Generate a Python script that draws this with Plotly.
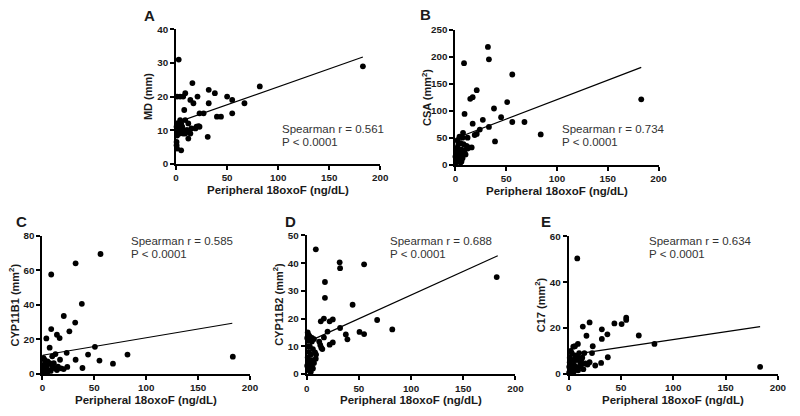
import plotly.graph_objects as go

# ---------------- data ----------------
A_x = [2.6, 183, 82, 16, 32, 38, 50, 55, 67, 32, 21, 9, 7, 1, 4, 14, 17, 8, 23, 27, 40, 44, 55, 4, 12, 1, 0.5, 20, 23, 3,
       11, 15, 7, 9, 14, 12, 31, 1, 0.5, 0.5, 1, 5, 1.5, 3.5, 6, 9, 2, 5, 10, 3, 6, 19, 22]
A_y = [31, 29, 23, 24, 22, 21, 20, 19, 18, 18, 20, 21, 20, 20, 20, 19, 18, 16, 15, 15, 14, 14, 15, 13, 12, 12, 11, 11, 11, 10,
       10, 10.5, 9, 9, 9, 7.5, 8, 8.4, 6.5, 5.5, 4.5, 4, 9.5, 9, 11, 13, 12, 12, 10, 11, 10, 10.5, 11.2]

B_x = [32, 33, 8.5, 56, 21, 17, 14.6, 38, 51, 9, 27, 45, 56, 68, 84, 39, 33, 24, 17, 21, 19, 7.5, 7, 12, 16, 12, 9, 11,
       2, 3, 5, 6, 1, 3, 4, 6, 9, 10, 1, 3, 6, 7, 0.5, 5, 0, 183, 2, 4, 1, 8, 13, 3]
B_y = [218, 195, 188, 167, 138, 125, 122, 104, 116, 94, 83, 88, 79, 79, 56, 43, 70, 65, 76, 57, 55, 59, 50, 50, 32, 30, 27, 35,
       32, 38, 40, 28, 22, 18, 14, 20, 19, 19, 10, 8, 6, 12, 4, 4, 15, 121, 45, 52, 28, 38, 32, 26]

C_x = [56, 32, 8.5, 38, 20.6, 31.6, 8.5, 26, 14, 16.6, 3.8, 7, 50.6, 23.4, 44, 82, 183.5, 12.6, 9.5, 17, 32, 55, 68, 38.6,
       24, 20.5, 2, 3, 1, 5, 7, 4, 2, 6, 8, 1, 3, 10, 12, 14, 0.5, 5, 9, 11, 15, 1, 18]
C_y = [69.4, 64, 57.5, 40.5, 33.4, 29.6, 25.8, 24.5, 22.5, 20.6, 20.4, 15, 15.5, 12, 11, 11, 9.8, 11.3, 10, 8, 8, 7.5, 5.7, 3.2,
       3.8, 2.6, 8, 6, 5, 7, 6, 4, 3, 2, 1.5, 1, 0.5, 4, 3, 2, 2, 1, 5, 6, 4, 9, 3]

D_x = [8.75, 31.6, 32, 55, 17.5, 17.5, 44, 16.5, 13.5, 25, 22, 20, 16.5, 32, 50.6, 67.5, 82, 55, 37.5, 39, 182, 25, 22, 12,
       13, 14, 15, 5, 7, 8, 9, 8.7, 1, 2, 0.5, 1.5, 3, 2, 1, 3, 4, 5, 2, 3, 4, 6, 5, 0.5, 1, 6, 4, 7, 2, 5, 3]
D_y = [45, 40.3, 38.2, 39.6, 33.2, 27.5, 25, 20, 19, 19.7, 19, 15.3, 13.2, 16.6, 15.2, 19.5, 16.1, 14.4, 14.3, 12.5, 35, 11.4, 10.6, 11.7,
       10.5, 9.5, 9, 11.7, 12.6, 7.8, 7, 5.5, 15, 14, 13, 12, 10, 8, 6, 5, 4, 3, 2, 1, 0.8, 2, 5, 3, 10, 9, 7, 4, 4.5, 13, 13.5]

E_x = [8.2, 55, 55, 50.6, 43.7, 20, 13.5, 31.7, 31.7, 37, 17, 67, 82, 8.8, 4.4, 23, 22.3, 37.4, 31, 25.4, 16, 14, 183,
       2, 10, 12, 6, 3, 1, 2, 4, 1, 0.5, 5, 7, 9, 11, 13, 18, 3, 6, 1, 5, 10, 12, 15, 20, 0.5, 2, 7, 9]
E_y = [50.4, 24.5, 23.5, 21.7, 22, 22.4, 20.6, 19.4, 15.2, 17.2, 16.6, 16.7, 13, 13, 11.8, 12, 9, 7.2, 4.7, 3.6, 4.5, 2, 3,
       10, 9, 6, 8, 6, 5, 3, 2, 1, 0.5, 4, 3, 1.5, 5, 7, 4, 9, 12, 7, 1, 3, 4, 9, 5, 3, 1, 6, 7]

# linear-regression fit (slope, intercept)
fits = {"A": (0.107, 12.2), "B": (0.72, 48.5), "C": (0.1016, 10.6), "D": (0.171, 11.4), "E": (0.068, 8.1)}
fit_x = [0, 183]

panel_letters = ["A", "B", "C", "D", "E"]
y_titles = ["MD (mm)", "CSA (mm<sup>2</sup>)", "CYP11B1 (mm<sup>2</sup>)", "CYP11B2 (mm<sup>2</sup>)", "C17 (mm<sup>2</sup>)"]
x_title = "Peripheral 18oxoF (ng/dL)"
spearman = ["0.561", "0.734", "0.585", "0.688", "0.634"]
p_text = "P < 0.0001"
y_max = [40, 250, 80, 50, 60]
y_dtick = [10, 50, 20, 10, 20]
x_ticks = [0, 50, 100, 150, 200]

data = {"A": (A_x, A_y), "B": (B_x, B_y), "C": (C_x, C_y), "D": (D_x, D_y), "E": (E_x, E_y)}

# ---------------- layout (pixel positions) ----------------
W, H = 800, 416
boxes = [
    (175.7, 383.0, 162.0, 24.0),
    (459.3, 665.5, 163.0, 24.3),
    (40.0, 250.7, 377.5, 236.0),
    (308.3, 520.3, 378.0, 235.7),
    (574.3, 786.7, 377.7, 236.7),
]
letter_pos = [(148.3, 10), (429.3, 8.5), (18.3, 221.7), (291.7, 221.7), (551.7, 221.7)]
stats_pos = [(281, 126), (565.7, 126), (128.3, 241.7), (391, 241.7), (654, 241.7)]

FONT = "Liberation Sans, Arial, sans-serif"

def px(x):
    return x / W

def py(y):
    return 1 - y / H

fig = go.Figure()
layout = dict(
    width=W, height=H,
    margin=dict(l=0, r=0, t=0, b=0),
    paper_bgcolor="white", plot_bgcolor="white",
    showlegend=False,
    font=dict(family=FONT, color="#1a1a1a"),
)
annotations = []

for i, key in enumerate(panel_letters):
    xs, ys = data[key]
    sfx = "" if i == 0 else str(i + 1)
    xa, ya = "x" + sfx, "y" + sfx
    x0p, x1p, y0p, y1p = boxes[i]
    fig.add_trace(go.Scatter(
        x=xs, y=ys, mode="markers", xaxis=xa, yaxis=ya,
        marker=dict(size=5.8, color="black"), cliponaxis=False, hoverinfo="x+y",
    ))
    m, b = fits[key]
    fig.add_trace(go.Scatter(
        x=fit_x, y=[m * v + b for v in fit_x], mode="lines", xaxis=xa, yaxis=ya,
        line=dict(color="black", width=1.2), cliponaxis=False, hoverinfo="skip",
    ))
    common = dict(ticks="outside", ticklen=4, tickwidth=2, tickcolor="black",
                  showline=True, linewidth=2, linecolor="black", showgrid=False, zeroline=False,
                  tickfont=dict(family=FONT, size=9.8, color="#1a1a1a", weight="bold"),
                  fixedrange=True)
    layout["xaxis" + sfx] = dict(domain=[px(x0p), px(x1p)], range=[0, 200], anchor=ya,
                                 tickvals=x_ticks, **common)
    layout["yaxis" + sfx] = dict(domain=[py(y0p), py(y1p)], range=[0, y_max[i]], anchor=xa,
                                 dtick=y_dtick[i], tick0=0, **common)
    lx, ly = letter_pos[i]
    annotations.append(dict(text="<b>%s</b>" % key, x=px(lx), y=py(ly), xref="paper", yref="paper",
                            showarrow=False, xanchor="center", yanchor="middle",
                            font=dict(family=FONT, size=15, color="#1a1a1a")))
    annotations.append(dict(text="<b>%s</b>" % y_titles[i], x=px(x0p - 29), y=py((y0p + y1p) / 2),
                            xref="paper", yref="paper", textangle=-90, showarrow=False,
                            xanchor="center", yanchor="middle",
                            font=dict(family=FONT, size=11, color="#1a1a1a")))
    annotations.append(dict(text="<b>%s</b>" % x_title, x=px((x0p + x1p) / 2), y=py(y0p + 27),
                            xref="paper", yref="paper", showarrow=False,
                            xanchor="center", yanchor="middle",
                            font=dict(family=FONT, size=11.5, color="#1a1a1a")))
    sx, sy = stats_pos[i]
    annotations.append(dict(text="Spearman r = %s" % spearman[i], x=px(sx), y=py(sy),
                            xref="paper", yref="paper", showarrow=False,
                            xanchor="left", yanchor="middle",
                            font=dict(family=FONT, size=11.5, color="#333333")))
    annotations.append(dict(text=p_text, x=px(sx), y=py(sy + 13.3),
                            xref="paper", yref="paper", showarrow=False,
                            xanchor="left", yanchor="middle",
                            font=dict(family=FONT, size=11.5, color="#333333")))

layout["annotations"] = annotations
fig.update_layout(**layout)
fig.write_html("out.html", config={"displayModeBar": False},
               post_script="document.body.style.margin='0';document.body.style.overflow='hidden';")
